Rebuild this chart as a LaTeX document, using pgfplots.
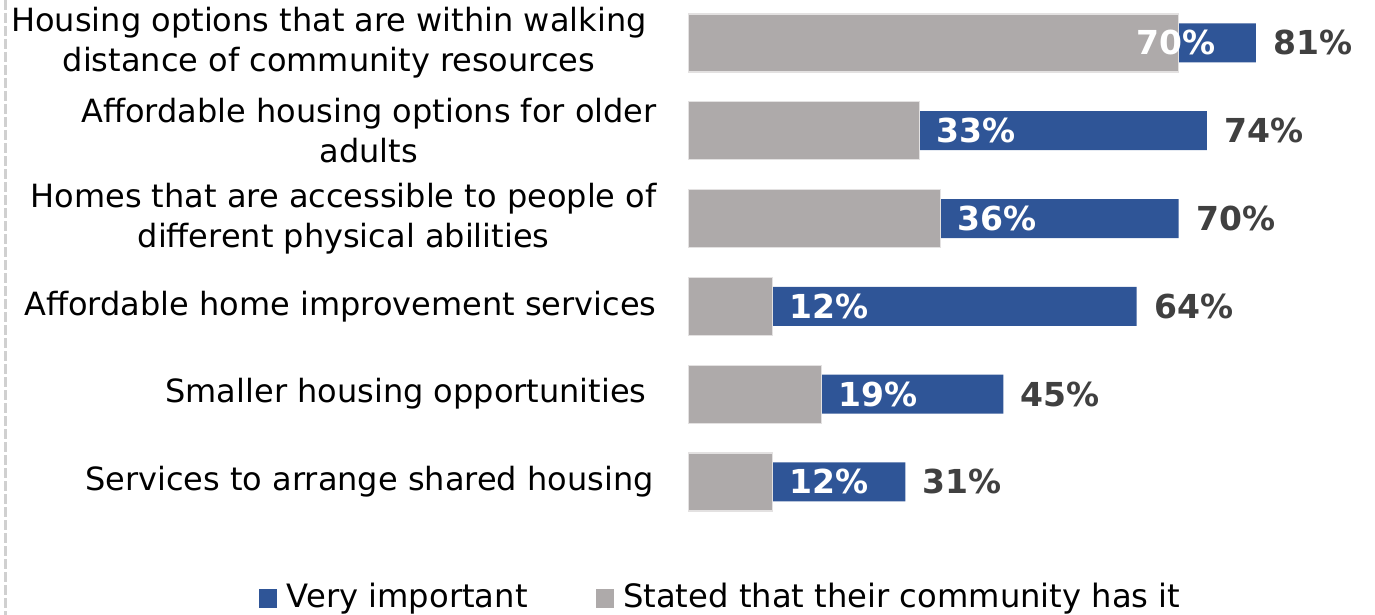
\documentclass[border=0pt]{standalone}
\usepackage{pgfplots}
\pgfplotsset{compat=1.18}
\usepackage{fontspec}
\setmainfont{DejaVu Sans}
\definecolor{blueC}{HTML}{2F5597}
\definecolor{grayC}{HTML}{AEAAAA}
\definecolor{labC}{HTML}{404040}
\definecolor{dashC}{HTML}{D0D0D0}
\begin{document}
\fontsize{16}{20}\selectfont
\begin{tikzpicture}
\useasboundingbox (0,0) rectangle (687.5pt,-307.5pt);
\draw[dashC, line width=1.5pt, dash pattern=on 5pt off 1.5pt] (2.5pt,0) -- (2.5pt,-307.5pt);
\begin{axis}[
  at={(344pt,-262.9pt)}, anchor=south west,
  scale only axis, width=333pt, height=263.4pt,
  xmin=0, xmax=95, ymin=0.5, ymax=6.5, y dir=reverse,
  axis line style={draw=none}, tick style={draw=none},
  xtick=\empty,
  ytick={1,2,3,4,5,6},
  yticklabels={{Housing options that are within walking\hspace*{5pt}\\distance of community resources\hspace*{5pt}},
    {Affordable housing options for older\\adults},
    {Homes that are accessible to people of\\different physical abilities},
    {Affordable home improvement services},
    {Smaller housing opportunities\hspace*{5pt}},
    {Services to arrange shared housing\hspace*{1.5pt}}},
  yticklabel style={align=center, anchor=east, inner sep=0pt, xshift=-15.5pt, font=\fontsize{16}{20}\selectfont},
  legend style={at={(axis description cs:0,0)}, anchor=west, xshift=-214.5pt, yshift=-36.1pt,
    draw=none, fill=none, inner sep=0pt, font=\fontsize{16.1}{20}\selectfont,
    /tikz/every even column/.append style={column sep=32pt}},
  legend columns=2, legend cell align=left,
  legend image code/.code={\fill[#1] (0pt,-4.5pt) rectangle (8.5pt,4.5pt); \path[draw=none,fill=none] (0pt,0pt) -- (11.5pt,0pt);},
]
\addlegendimage{blueC}
\addlegendentry{Very important}
\addlegendimage{grayC}
\addlegendentry{Stated that their community has it}
% blue: very important
\addplot[xbar, bar shift=0pt, bar width=19.5pt, fill=blueC, draw=none, forget plot,
  point meta=x, nodes near coords={\pgfmathprintnumber[fixed,precision=0,assume math mode=true]{\pgfplotspointmeta}\%},
  every node near coord/.append style={anchor=west, xshift=8.5pt, inner sep=0pt, text=labC, font=\fontsize{16.5}{20}\selectfont\bfseries}]
  coordinates {(81,1) (74,2) (70,3) (64,4) (45,5) (31,6)};
% gray: community has it (drawn in front)
\addplot[xbar, bar shift=0pt, bar width=29pt, fill=grayC, draw=grayC!35!white, line width=0.6pt, forget plot]
  coordinates {(70,1) (33,2) (36,3) (12,4) (19,5) (12,6)};
% gray labels
\addplot[xbar, bar shift=0pt, bar width=0pt, draw=none, fill=none, forget plot,
  point meta=x, nodes near coords={\pgfmathprintnumber[fixed,precision=0,assume math mode=true]{\pgfplotspointmeta}\%},
  every node near coord/.append style={anchor=west, xshift=8.5pt, inner sep=0pt, text=white, font=\fontsize{16.5}{20}\selectfont\bfseries}]
  coordinates {(33,2) (36,3) (12,4) (19,5) (12,6)};
\addplot[xbar, bar shift=0pt, bar width=0pt, draw=none, fill=none, forget plot,
  point meta=x, nodes near coords={\pgfmathprintnumber[fixed,precision=0,assume math mode=true]{\pgfplotspointmeta}\%},
  every node near coord/.append style={anchor=west, xshift=-21.5pt, inner sep=0pt, text=white, font=\fontsize{16.5}{20}\selectfont\bfseries}]
  coordinates {(70,1)};
\end{axis}
\end{tikzpicture}
\end{document}
